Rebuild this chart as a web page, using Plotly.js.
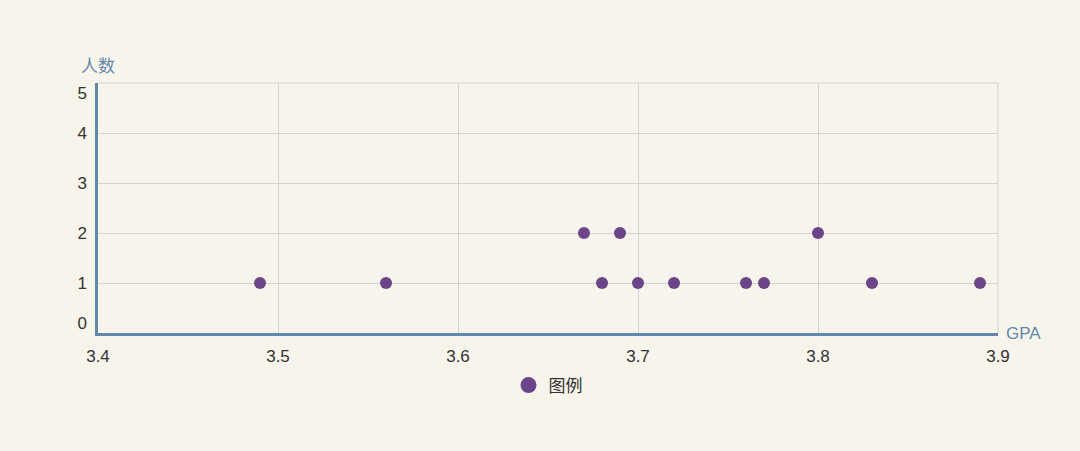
<!DOCTYPE html>
<html><head><meta charset="utf-8">
<script src="https://cdn.plot.ly/plotly-3.0.1.min.js"></script>
<style>html,body{margin:0;padding:0;background:#f7f4eb;}#chart{width:1080px;height:451px;}</style>
</head><body><div id="chart"></div>
<script>
var gpa   = [3.49, 3.56, 3.67, 3.68, 3.69, 3.70, 3.72, 3.76, 3.77, 3.80, 3.83, 3.89];
var count = [1,    1,    2,    1,    2,    1,    1,    1,    1,    2,    1,    1];
var xTicks = [3.4, 3.5, 3.6, 3.7, 3.8, 3.9];
var yTicks = [0, 1, 2, 3, 4, 5];
var seriesName = '图例';
var xTitle = 'GPA', yTitle = '人数';

var bg = '#f7f4eb', grid = '#d5d3cd', axisBlue = '#5f88ab', purple = '#6b4489';
var trace = {
  x: gpa, y: count, type: 'scatter', mode: 'markers', name: seriesName, legendgroup: 'g',
  marker: {size: 12, color: purple}, cliponaxis: false, showlegend: false
};
var legendTrace = {
  x: [null], y: [null], type: 'scatter', mode: 'markers', name: seriesName, legendgroup: 'g',
  marker: {size: 24, color: purple}, showlegend: true, hoverinfo: 'skip'
};
var labelTrace = {x: [xTicks[0]], y: [yTicks[0]], yaxis: 'y2', type: 'scatter', mode: 'markers',
  marker: {opacity: 0}, showlegend: false, hoverinfo: 'skip'};
var layout = {
  width: 1080, height: 451,
  paper_bgcolor: bg, plot_bgcolor: bg,
  margin: {l: 98, r: 82, t: 83, b: 118},
  font: {family: 'Liberation Sans, Arial, sans-serif', size: 17, color: '#333'},
  xaxis: {range: [3.4, 3.9], tickvals: xTicks, ticktext: xTicks.map(function(v){return v.toFixed(1);}),
    showgrid: true, gridcolor: grid, gridwidth: 1, zeroline: false,
    showline: true, linecolor: axisBlue, linewidth: 3, ticks: '', ticklabelstandoff: 6},
  yaxis: {range: [0, 5], tickvals: yTicks, showticklabels: false, showgrid: true, gridcolor: grid,
    zeroline: false, showline: true, linecolor: axisBlue, linewidth: 3, ticks: ''},
  yaxis2: {overlaying: 'y', side: 'left', range: [0, 5], tickvals: [0.2, 1, 2, 3, 4, 4.8],
    ticktext: yTicks.map(String), showgrid: false, zeroline: false, showline: false, ticks: '',
    ticklabelstandoff: 10},
  showlegend: true,
  legend: {orientation: 'h', x: 0.5, xanchor: 'center', y: -0.21, yanchor: 'middle',
    font: {family: 'Noto Sans CJK SC, sans-serif', size: 17, color: '#333'}, itemsizing: 'trace', bgcolor: 'rgba(0,0,0,0)'},
  shapes: [
    {type: 'line', xref: 'paper', yref: 'paper', x0: 0, x1: 1, y0: 1, y1: 1, line: {color: grid, width: 1}, layer: 'below'},
    {type: 'line', xref: 'paper', yref: 'paper', x0: 1, x1: 1, y0: 0, y1: 1, line: {color: grid, width: 1}, layer: 'below'}
  ],
  annotations: [
    {text: yTitle, xref: 'paper', yref: 'paper', x: 0, y: 1, xanchor: 'center', yanchor: 'bottom', yshift: 4,
      showarrow: false, font: {family: 'Noto Sans CJK SC, sans-serif', size: 17, color: axisBlue}},
    {text: xTitle, xref: 'paper', yref: 'paper', x: 1, y: 0, xanchor: 'left', yanchor: 'middle', xshift: 6,
      showarrow: false, font: {family: 'Liberation Sans, Arial, sans-serif', size: 17, color: axisBlue}}
  ]
};
Plotly.newPlot('chart', [trace, legendTrace, labelTrace], layout, {displayModeBar: false, staticPlot: true});
</script></body></html>
